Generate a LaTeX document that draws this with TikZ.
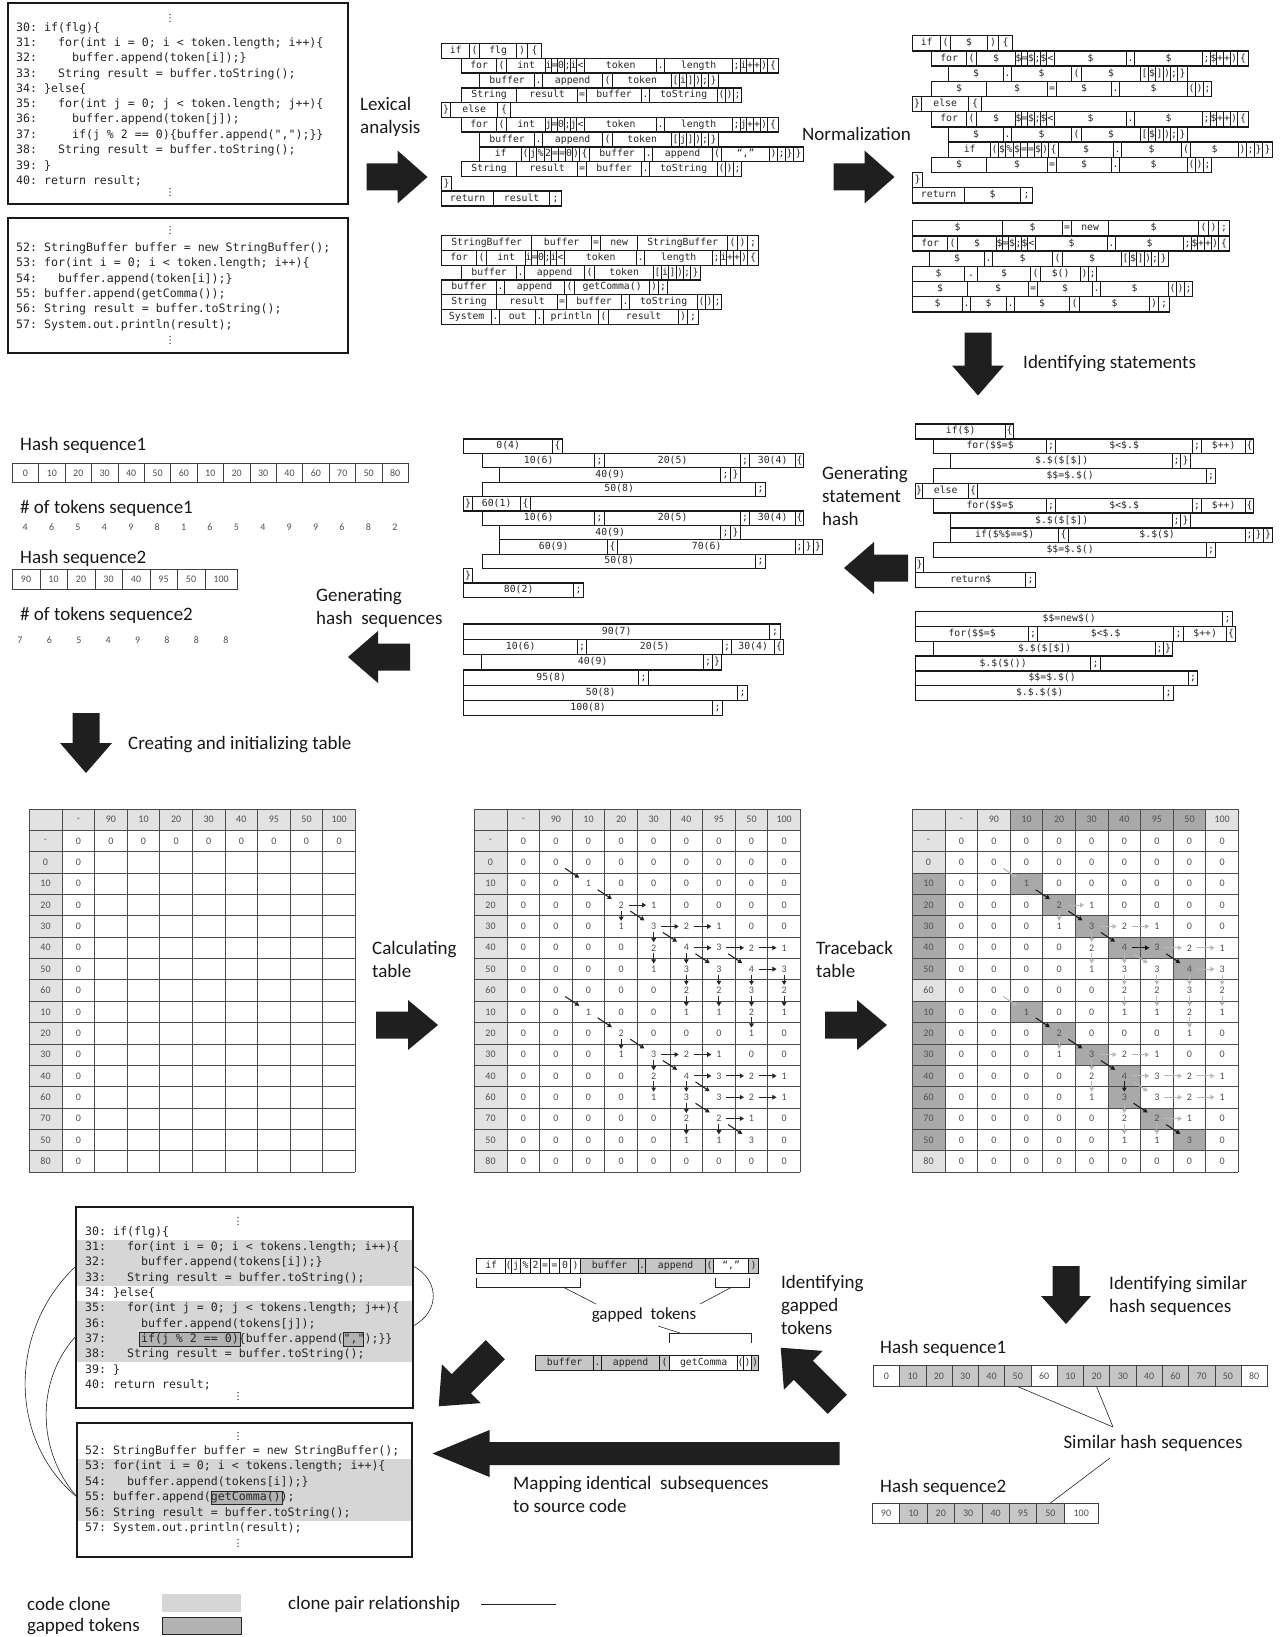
\documentclass[tikz,border=0pt]{standalone}
\usepackage{fontspec}
\setmainfont{Carlito}
\setmonofont{DejaVu Sans Mono}
\usetikzlibrary{arrows.meta}
\definecolor{hdrlight}{HTML}{E2E2E2}
\definecolor{celldark}{HTML}{A9A9A9}
\definecolor{band}{HTML}{D6D6D6}
\definecolor{gapfill}{HTML}{B2B2B2}
\definecolor{hgray}{HTML}{C6C6C6}
\definecolor{numgray}{HTML}{505050}
\newcommand\lblf{\fontsize{19}{23}\selectfont}
\newcommand\smlblf{\fontsize{17}{20}\selectfont}
\newcommand\codef{\ttfamily\fontsize{11.6}{14}\selectfont}
\newcommand\tokf{\ttfamily\fontsize{9.8}{11}\selectfont}
\newcommand\tabf{\fontsize{10}{12}\selectfont}
\newcounter{tkc}
% token row: #1 x, #2 top y, #3 height, #4 list width/text
\newcommand\tokrow[4]{\xdef\curx{#1}%
  \foreach \w/\tk in {#4}{\stepcounter{tkc}%
    \node[tok, minimum width=\w pt, minimum height=#3 pt, anchor=north west] (tk\arabic{tkc}) at (\curx,#2) {\tk};%
    \pgfmathsetmacro\nx{\curx+\w}\xdef\curx{\nx}}}
% coloured token row: list width/text/fill
\newcommand\gtokrow[4]{\xdef\curx{#1}%
  \foreach \w/\tk/\fc in {#4}{\stepcounter{tkc}%
    \node[tok, fill=\fc, minimum width=\w pt, minimum height=#3 pt, anchor=north west] (tk\arabic{tkc}) at (\curx,#2) {\tk};%
    \pgfmathsetmacro\nx{\curx+\w}\xdef\curx{\nx}}}
% hash row: #1 prefix, #2 x, #3 y, #4 h, #5 list width/text/fill
\newcommand\hashrow[5]{\xdef\curx{#2}%
  \foreach \w/\tk/\fc [count=\nn] in {#5}{%
    \node[hcell, fill=\fc, minimum width=\w pt, minimum height=#4 pt] (#1-\nn) at (\curx,#3) {\tk};%
    \pgfmathsetmacro\nx{\curx+\w}\xdef\curx{\nx}}}
% block arrow: cx, cy, angle, length, shaft w, head w, head len
\newcommand\blkarrow[7]{\fill[barrow, shift={(#1,#2)}, rotate=#3]
  ({-#4/2},{-#5/2}) -- ({#4/2-#7},{-#5/2}) -- ({#4/2-#7},{-#6/2}) -- ({#4/2},0)
  -- ({#4/2-#7},{#6/2}) -- ({#4/2-#7},{#5/2}) -- ({-#4/2},{#5/2}) -- cycle;}
\newcommand\vdts[2]{\foreach \k in {-3.3,0,3.3}{\fill[black!80] (#1,{#2+\k}) circle[radius=0.75pt];}}
% table coordinates
\newcommand\mktable[2]{%
  \foreach \i in {0,...,16}{\foreach \j in {0,...,9}{%
    \pgfmathsetmacro\cx{#2 + (\j==0 ? 16.5 : 33 + 32.6*(\j-0.5))}%
    \pgfmathsetmacro\cy{809 + 21.35*(\i+0.5)}%
    \coordinate (#1-\i-\j) at (\cx,\cy);}}}
\newcommand\tablegrid[1]{%
  \foreach \i in {0,...,17}{\draw[grid] (#1,{809+21.35*\i}) -- ++(326.4,0);}
  \draw[grid] (#1,809) -- ++(0,362.95);
  \foreach \j in {0,...,9}{\draw[grid] ({#1+33+32.6*\j},809) -- ++(0,362.95);}}
\newcommand\tablelabels[1]{%
  \foreach \lab [count=\j] in {-,90,10,20,30,40,95,50,100}{\node[tnum] at (#1-0-\j) {\lab};}
  \foreach \lab [count=\i] in {-,0,10,20,30,40,50,60,10,20,30,40,60,70,50,80}{\node[tnum] at (#1-\i-0) {\lab};}}
\newcommand\tablevals[1]{%
  \foreach \row [count=\i] in {{0,0,0,0,0,0,0,0,0},{0,0,0,0,0,0,0,0,0},{0,0,1,0,0,0,0,0,0},
    {0,0,0,2,1,0,0,0,0},{0,0,0,1,3,2,1,0,0},{0,0,0,0,2,4,3,2,1},{0,0,0,0,1,3,3,4,3},
    {0,0,0,0,0,2,2,3,2},{0,0,1,0,0,1,1,2,1},{0,0,0,2,0,0,0,1,0},{0,0,0,1,3,2,1,0,0},
    {0,0,0,0,2,4,3,2,1},{0,0,0,0,1,3,3,2,1},{0,0,0,0,0,2,2,1,0},{0,0,0,0,0,1,1,3,0},
    {0,0,0,0,0,0,0,0,0}}{%
    \foreach \v [count=\j] in \row {\node[tnum] at (#1-\i-\j) {\v};}}}
\newcommand\tablearrows[2]{%
  \foreach \a/\b in {2-2/3-3,3-3/4-4,4-4/5-5,5-5/6-6,6-6/7-7,6-7/7-8,8-2/9-3,9-3/10-4,10-4/11-5,11-5/12-6,12-6/13-7,13-6/14-7,14-7/15-8}
    {\draw[tad, draw=#2, #2] (#1-\a) -- (#1-\b);}
  \foreach \a/\b in {4-4/4-5,5-5/5-6,5-6/5-7,6-6/6-7,6-7/6-8,6-8/6-9,7-8/7-9,11-5/11-6,11-6/11-7,12-6/12-7,12-7/12-8,12-8/12-9,13-7/13-8,13-8/13-9,14-7/14-8}
    {\draw[tah, draw=#2, #2] (#1-\a) -- (#1-\b);}
  \foreach \a/\b in {4-4/5-4,5-5/6-5,6-5/7-5,6-6/7-6,7-6/8-6,8-6/9-6,7-7/8-7,8-7/9-7,7-8/8-8,8-8/9-8,9-8/10-8,7-9/8-9,8-9/9-9,10-4/11-4,11-5/12-5,12-5/13-5,12-6/13-6,13-6/14-6,14-6/15-6,14-7/15-7}
    {\draw[tav, draw=#2, #2] (#1-\a) -- (#1-\b);}}
\begin{document}
\begin{tikzpicture}[x=1pt,y=-1pt,
  tok/.style={draw=black!90, line width=1.35pt, inner sep=0pt, font=\tokf, text=black!85, text height=6.9pt, text depth=1.8pt},
  codetxt/.style={anchor=west, inner sep=0pt, font=\codef, text=black!85},
  codebox/.style={draw=black!90, line width=1.6pt},
  lbl/.style={anchor=west, inner sep=0pt, font=\lblf, align=left, text=black!90},
  tnum/.style={font=\tabf, text=numgray, inner sep=0pt},
  hcell/.style={draw=black!75, line width=0.6pt, inner sep=0pt, font=\tabf, text=numgray, anchor=north west},
  barrow/.style={fill=black!88},
  grid/.style={draw=black!70, line width=0.7pt},
  tarr/.style={line width=1.1pt, -{Triangle[length=4.2pt,width=4.6pt]}},
  tad/.style={tarr, shorten >=11pt, shorten <=11pt},
  tah/.style={tarr, shorten >=7.5pt, shorten <=7.5pt},
  tav/.style={tarr, shorten >=5.5pt, shorten <=5.5pt},
  thinl/.style={draw=black!85, line width=0.6pt}]
\useasboundingbox (0,0) rectangle (1281,1637);
\fill[white] (0,0) rectangle (1281,1637);

% ---------------- source code boxes (top left)
\draw[codebox] (8,3) rectangle (348,204);
\vdts{170}{18}
\node[codetxt] (s30) at (16,28) {30: if(flg)\{};
\node[codetxt] (s31) at (16,43.3) {31:~~~for(int i = 0; i < token.length; i++)\{};
\node[codetxt] (s32) at (16,58.6) {32:~~~~~buffer.append(token[i]);\}};
\node[codetxt] (s33) at (16,73.9) {33:~~~String result = buffer.toString();};
\node[codetxt] (s34) at (16,89.2) {34: \}else\{};
\node[codetxt] (s35) at (16,104.5) {35:~~~for(int j = 0; j < token.length; j++)\{};
\node[codetxt] (s36) at (16,119.8) {36:~~~~~buffer.append(token[j]);};
\node[codetxt] (s37) at (16,135.1) {37:~~~~~if(j \% 2 == 0)\{buffer.append(",");\}\}};
\node[codetxt] (s38) at (16,150.4) {38:~~~String result = buffer.toString();};
\node[codetxt] (s39) at (16,165.7) {39: \}};
\node[codetxt] (s40) at (16,181) {40: return result;};
\vdts{170}{192}

\draw[codebox] (8,218) rectangle (348,353);
\vdts{170}{230}
\node[codetxt] (s52) at (16,248) {52: StringBuffer buffer = new StringBuffer();};
\node[codetxt] (s53) at (16,263.4) {53: for(int i = 0; i < token.length; i++)\{};
\node[codetxt] (s54) at (16,278.8) {54:~~~buffer.append(token[i]);\}};
\node[codetxt] (s55) at (16,294.2) {55: buffer.append(getComma());};
\node[codetxt] (s56) at (16,309.6) {56: String result = buffer.toString();};
\node[codetxt] (s57) at (16,325) {57: System.out.println(result);};
\vdts{170}{340}

% ---------------- lexical analysis tokens
\tokrow{441}{43}{14.75}{28/if, 10/(, 37/flg, 11/), 14/\{}
\tokrow{461}{57.75}{14.75}{35/for, 10/(, 39/int, 6/i, 6/=, 7/0, 6/;, 6/i, 8/<, 72/token, 8/., 68/length, 8/;, 6/i, 7/+, 7/+, 7/), 11/\{}
\tokrow{479}{72.5}{14.75}{55/buffer, 8/., 60/append, 10/(, 59/token, 8/[, 7/i, 8/], 7/), 7/;, 10/\}}
\tokrow{461}{87.25}{14.75}{55/String, 61/result, 9/=, 55/buffer, 8/., 68/toString, 8/(, 8/), 8/;}
\tokrow{441}{102}{14.75}{9/\}, 47/else, 13/\{}
\tokrow{461}{116.75}{14.75}{35/for, 10/(, 39/int, 6/j, 6/=, 7/0, 6/;, 6/j, 8/<, 72/token, 8/., 68/length, 8/;, 6/j, 7/+, 7/+, 7/), 11/\{}
\tokrow{479}{131.5}{14.75}{55/buffer, 8/., 60/append, 10/(, 59/token, 8/[, 7/j, 8/], 7/), 7/;, 10/\}}
\tokrow{479}{146.25}{14.75}{42/if, 8/(, 7/j, 8/\%, 7/2, 7/=, 7/=, 7/0, 7/), 10/\{, 55/buffer, 8/., 60/append, 9/(, 48/{“,”}, 8/), 8/;, 8/\}, 10/\}}
\tokrow{461}{161}{14.75}{55/String, 61/result, 9/=, 55/buffer, 8/., 68/toString, 8/(, 8/), 8/;}
\tokrow{441}{175.75}{14.75}{10/\}}
\tokrow{441}{190.5}{14.75}{52/return, 56/result, 12/;}

\tokrow{441}{235}{14.75}{90/StringBuffer, 60/buffer, 9/=, 37/new, 90/StringBuffer, 10/(, 10/), 11/;}
\tokrow{441}{249.75}{14.75}{35/for, 10/(, 39/int, 6/i, 6/=, 7/0, 6/;, 6/i, 8/<, 72/token, 8/., 68/length, 8/;, 6/i, 7/+, 7/+, 7/), 11/\{}
\tokrow{461}{264.5}{14.75}{55/buffer, 8/., 60/append, 10/(, 59/token, 8/[, 7/i, 8/], 7/), 7/;, 10/\}}
\tokrow{441}{279.25}{14.75}{55/buffer, 8/., 60/append, 10/(, 75/getComma(), 9/), 9/;}
\tokrow{441}{294}{14.75}{55/String, 61/result, 9/=, 55/buffer, 8/., 68/toString, 8/(, 8/), 8/;}
\tokrow{441}{308.75}{14.75}{50/System, 8/., 36/out, 8/., 55/println, 10/(, 70/result, 9/), 11/;}

% ---------------- normalization tokens
\tokrow{912}{35}{15.2}{28/if, 10/(, 37/\$, 11/), 14/\{}
\tokrow{931}{50.2}{15.2}{35/for, 10/(, 39/\$, 6/\$, 6/=, 7/\$, 6/;, 6/\$, 8/<, 72/\$, 8/., 68/\$, 8/;, 6/\$, 7/+, 7/+, 7/), 11/\{}
\tokrow{948}{65.4}{15.2}{55/\$, 8/., 60/\$, 10/(, 59/\$, 8/[, 7/\$, 8/], 7/), 7/;, 10/\}}
\tokrow{931}{80.6}{15.2}{55/\$, 61/\$, 9/=, 55/\$, 8/., 68/\$, 8/(, 8/), 8/;}
\tokrow{912}{95.8}{15.2}{9/\}, 47/else, 13/\{}
\tokrow{931}{111}{15.2}{35/for, 10/(, 39/\$, 6/\$, 6/=, 7/\$, 6/;, 6/\$, 8/<, 72/\$, 8/., 68/\$, 8/;, 6/\$, 7/+, 7/+, 7/), 11/\{}
\tokrow{948}{126.2}{15.2}{55/\$, 8/., 60/\$, 10/(, 59/\$, 8/[, 7/\$, 8/], 7/), 7/;, 10/\}}
\tokrow{948}{141.4}{15.2}{42/if, 8/(, 7/\$, 8/\%, 7/\$, 7/=, 7/=, 7/\$, 7/), 10/\{, 55/\$, 8/., 60/\$, 9/(, 48/\$, 8/), 8/;, 8/\}, 10/\}}
\tokrow{931}{156.6}{15.2}{55/\$, 61/\$, 9/=, 55/\$, 8/., 68/\$, 8/(, 8/), 8/;}
\tokrow{912}{171.8}{15.2}{10/\}}
\tokrow{912}{187}{15.2}{52/return, 56/\$, 12/;}

\tokrow{912}{220}{15.2}{90/\$, 60/\$, 9/=, 37/new, 90/\$, 10/(, 10/), 11/;}
\tokrow{912}{235.2}{15.2}{35/for, 10/(, 39/\$, 6/\$, 6/=, 7/\$, 6/;, 6/\$, 8/<, 72/\$, 8/., 68/\$, 8/;, 6/\$, 7/+, 7/+, 7/), 11/\{}
\tokrow{929}{250.4}{15.2}{55/\$, 8/., 60/\$, 10/(, 59/\$, 8/[, 7/\$, 8/], 7/), 7/;, 10/\}}
\tokrow{912}{265.6}{15.2}{52/\$, 13/., 53/\$, 10/(, 40/\$(), 8/), 8/;}
\tokrow{912}{280.8}{15.2}{55/\$, 61/\$, 9/=, 55/\$, 8/., 68/\$, 8/(, 8/), 8/;}
\tokrow{912}{296}{15.2}{50/\$, 8/., 36/\$, 8/., 55/\$, 10/(, 70/\$, 9/), 11/;}

% ---------------- statements
\tokrow{915}{423.3}{14.85}{90/if(\$), 8/\{}
\tokrow{933}{438.15}{14.85}{113/for(\$\$=\$, 9/;, 137/\$<\$.\$, 9/;, 44/\$++), 8/\{}
\tokrow{950}{453}{14.85}{222/\$.\$(\$[\$]), 8/;, 10/\}}
\tokrow{933}{467.85}{14.85}{273/\$\$=\$.\$(), 9/;}
\tokrow{915}{482.7}{14.85}{7/\}, 46/else, 9/\{}
\tokrow{933}{497.55}{14.85}{113/for(\$\$=\$, 9/;, 137/\$<\$.\$, 9/;, 44/\$++), 8/\{}
\tokrow{950}{512.4}{14.85}{222/\$.\$(\$[\$]), 8/;, 10/\}}
\tokrow{950}{527.25}{14.85}{108/if(\$\%\$==\$), 10/\{, 177/\$.\$(\$), 8/;, 10/\}, 9/\}}
\tokrow{933}{542.1}{14.85}{273/\$\$=\$.\$(), 9/;}
\tokrow{915}{556.95}{14.85}{8/\}}
\tokrow{915}{571.8}{14.85}{110/return\$, 10/;}

\tokrow{915}{611}{14.8}{307/\$\$=new\$(), 10/;}
\tokrow{915}{625.8}{14.8}{113/for(\$\$=\$, 9/;, 136/\$<\$.\$, 10/;, 43/\$++), 9/\{}
\tokrow{933}{640.6}{14.8}{222/\$.\$(\$[\$]), 8/;, 9/\}}
\tokrow{915}{655.4}{14.8}{175/\$.\$(\$()), 10/;}
\tokrow{915}{670.2}{14.8}{273/\$\$=\$.\$(), 9/;}
\tokrow{915}{685}{14.8}{248/\$.\$.\$(\$), 10/;}

% ---------------- statement hashes
\tokrow{463}{438.3}{14.4}{89/0(4), 10/\{}
\tokrow{482}{452.7}{14.4}{112/10(6), 10/;, 136/20(5), 9/;, 46/30(4), 8/\{}
\tokrow{499}{467.1}{14.4}{221/40(9), 10/;, 10/\}}
\tokrow{482}{481.5}{14.4}{273/50(8), 10/;}
\tokrow{463}{495.9}{14.4}{9/\}, 48/60(1), 10/\{}
\tokrow{482}{510.3}{14.4}{112/10(6), 10/;, 136/20(5), 9/;, 46/30(4), 8/\{}
\tokrow{499}{524.7}{14.4}{221/40(9), 10/;, 10/\}}
\tokrow{499}{539.1}{14.4}{108/60(9), 10/\{, 178/70(6), 8/;, 10/\}, 9/\}}
\tokrow{482}{553.5}{14.4}{273/50(8), 10/;}
\tokrow{463}{567.9}{14.4}{9/\}}
\tokrow{463}{582.3}{14.4}{110/80(2), 10/;}

\tokrow{463}{623.3}{15.3}{306/90(7), 11/;}
\tokrow{463}{638.6}{15.3}{114/10(6), 9/;, 136/20(5), 9/;, 43/30(4), 9/\{}
\tokrow{481}{653.9}{15.3}{222/40(9), 9/;, 9/\}}
\tokrow{463}{669.2}{15.3}{175/95(8), 10/;}
\tokrow{463}{684.5}{15.3}{274/50(8), 10/;}
\tokrow{463}{699.8}{15.3}{249/100(8), 10/;}

% ---------------- hash sequences (left)
\node[lbl] (hs1) at (20,445) {Hash sequence1};
\hashrow{hA}{12}{463}{19}{26.4/0/white, 26.4/10/white, 26.4/20/white, 26.4/30/white, 26.4/40/white, 26.4/50/white, 26.4/60/white, 26.4/10/white, 26.4/20/white, 26.4/30/white, 26.4/40/white, 26.4/60/white, 26.4/70/white, 26.4/50/white, 26.4/80/white}
\node[lbl] (nt1) at (20,508) {\# of tokens sequence1};
\foreach \v [count=\k] in {4,6,5,4,9,8,1,6,5,4,9,9,6,8,2}{\node[tnum] (nA\k) at ({12+26.4*(\k-0.5)},527) {\v};}
\node[lbl] (hs2) at (20,558) {Hash sequence2};
\hashrow{hB}{12}{569}{20}{27.5/90/white, 27.5/10/white, 27.5/20/white, 27.5/30/white, 27.5/40/white, 27.5/95/white, 27.5/50/white, 32.5/100/white}
\node[lbl] (nt2) at (20,615) {\# of tokens sequence2};
\foreach \v [count=\k] in {7,6,5,4,9,8,8,8}{\node[tnum] (nB\k) at ({20+29.4*(\k-1)},640) {\v};}

% ---------------- labels
\node[lbl] (lx) at (360,116.5) {Lexical\\analysis};
\node[lbl] (nm) at (802,134) {Normalization};
\node[lbl] (idst) at (1023,364) {Identifying statements};
\node[lbl] (gsh) at (822,496) {Generating\\statement\\hash};
\node[lbl] (ghs) at (316,608) {Generating\\hash~ sequences};
\node[lbl] (cit) at (128,745) {Creating and initializing table};
\node[lbl] (calc) at (372,959.5) {Calculating\\table};
\node[lbl] (trb) at (816,959.5) {Traceback\\table};
\node[lbl] (igt) at (781,1305) {Identifying\\gapped\\tokens};
\node[lbl] (ish) at (1109,1296) {Identifying similar\\hash sequences};
\node[lbl] (mis) at (513,1494) {Mapping identical~ subsequences\\to source code};

% ---------------- block arrows
\blkarrow{397}{177}{0}{61}{27}{53}{30}
\blkarrow{864}{177}{0}{61}{27}{53}{30}
\blkarrow{978}{364}{-90}{63}{27}{52}{30}
\blkarrow{876}{568}{180}{64}{27}{52}{30}
\blkarrow{379}{657}{180}{62}{27}{52}{30}
\blkarrow{86}{743}{-90}{60}{27}{52}{30}
\blkarrow{407}{1025}{0}{62}{27}{50}{30}
\blkarrow{856}{1025}{0}{62}{27}{50}{30}
\blkarrow{1066}{1295}{-90}{58}{27}{50}{28}
\blkarrow{809}{1376}{135}{80}{27}{55}{32}
\blkarrow{467}{1378}{225}{80}{27}{55}{32}
\blkarrow{636}{1453.5}{180}{407}{23}{47}{57}

% ---------------- table 1
\mktable{T1}{29}
\fill[hdrlight] (29,809) rectangle ++(326.4,21.35);
\fill[hdrlight] (29,809) rectangle ++(33,362.95);
\tablegrid{29}
\tablelabels{T1}
\foreach \j in {1,...,9}{\node[tnum] at (T1-1-\j) {0};}
\foreach \i in {2,...,16}{\node[tnum] at (T1-\i-1) {0};}

% ---------------- table 2
\mktable{T2}{474}
\fill[hdrlight] (474,809) rectangle ++(326.4,21.35);
\fill[hdrlight] (474,809) rectangle ++(33,362.95);
\tablegrid{474}
\tablelabels{T2}
\tablevals{T2}
\tablearrows{T2}{black!85}

% ---------------- table 3
\mktable{T3}{912}
\fill[hdrlight] (912,809) rectangle ++(326.4,21.35);
\fill[hdrlight] (912,809) rectangle ++(33,362.95);
\foreach \j in {3,...,8}{\fill[celldark] (T3-0-\j) ++(-16.3,-10.675) rectangle ++(32.6,21.35);}
\foreach \i in {3,4,5,6,7,9,10,11,12,13,14,15}{\fill[celldark] (T3-\i-0) ++(-16.5,-10.675) rectangle ++(33,21.35);}
\foreach \c in {3-3,4-4,5-5,6-6,6-7,7-8,9-3,10-4,11-5,12-6,13-6,14-7,15-8}{\fill[celldark] (T3-\c) ++(-16.3,-10.675) rectangle ++(32.6,21.35);}
\tablegrid{912}
\tablelabels{T3}
\tablevals{T3}
\tablearrows{T3}{black!28}
\foreach \a/\b in {3-3/4-4,4-4/5-5,5-5/6-6,6-7/7-8,9-3/10-4,10-4/11-5,11-5/12-6,13-6/14-7,14-7/15-8}{\draw[tad, draw=black!90, black!90] (T3-\a) -- (T3-\b);}
\draw[tah, draw=black!90, black!90] (T3-6-6) -- (T3-6-7);
\draw[tav, draw=black!90, black!90] (T3-12-6) -- (T3-13-6);

% ---------------- bottom code boxes
\fill[band] (77,1240) rectangle (412,1285.5);
\fill[band] (77,1301) rectangle (412,1362);
\draw[fill=gapfill, draw=black!85, line width=0.8pt] (139,1332.5) rectangle (240,1346);
\draw[fill=gapfill, draw=black!85, line width=0.8pt] (343,1332.5) rectangle (363,1346);
\draw[codebox] (76,1207) rectangle (413,1408);
\vdts{238}{1221}
\node[codetxt] (b30) at (85,1232) {30: if(flg)\{};
\node[codetxt] (b31) at (85,1247.3) {31:~~~for(int i = 0; i < tokens.length; i++)\{};
\node[codetxt] (b32) at (85,1262.6) {32:~~~~~buffer.append(tokens[i]);\}};
\node[codetxt] (b33) at (85,1277.9) {33:~~~String result = buffer.toString();};
\node[codetxt] (b34) at (85,1293.2) {34: \}else\{};
\node[codetxt] (b35) at (85,1308.5) {35:~~~for(int j = 0; j < tokens.length; j++)\{};
\node[codetxt] (b36) at (85,1323.8) {36:~~~~~buffer.append(tokens[j]);};
\node[codetxt] (b37) at (85,1339.1) {37:~~~~~if(j \% 2 == 0)\{buffer.append(",");\}\}};
\node[codetxt] (b38) at (85,1354.4) {38:~~~String result = buffer.toString();};
\node[codetxt] (b39) at (85,1369.7) {39: \}};
\node[codetxt] (b40) at (85,1385) {40: return result;};
\vdts{238}{1396}

\fill[band] (78,1459) rectangle (411,1521);
\draw[fill=gapfill, draw=black!85, line width=0.8pt] (211,1491) rectangle (282,1504);
\draw[codebox] (77,1423) rectangle (412,1557);
\vdts{238}{1436}
\node[codetxt] (b52) at (85,1451) {52: StringBuffer buffer = new StringBuffer();};
\node[codetxt] (b53) at (85,1466.5) {53: for(int i = 0; i < tokens.length; i++)\{};
\node[codetxt] (b54) at (85,1482) {54:~~~buffer.append(tokens[i]);\}};
\node[codetxt] (b55) at (85,1497.5) {55: buffer.append(getComma());};
\node[codetxt] (b56) at (85,1513) {56: String result = buffer.toString();};
\node[codetxt] (b57) at (85,1528.5) {57: System.out.println(result);};
\vdts{238}{1543}

% clone pair curves
\coordinate (cpA) at (76,1266);
\coordinate (cpB) at (76,1336);
\coordinate (cpC) at (77,1497);
\coordinate (cpR1) at (413,1266);
\coordinate (cpR2) at (413,1326);
\draw[thinl] (cpA) .. controls (8,1330) and (8,1440) .. (cpC);
\draw[thinl] (cpB) .. controls (36,1380) and (36,1450) .. (cpC);
\draw[thinl] (cpR1) .. controls (440,1280) and (440,1312) .. (cpR2);

% ---------------- gapped tokens
\gtokrow{476}{1258}{15}{29/if/white, 6/(/white, 9/j/white, 10/\%/white, 10/2/white, 9/=/white, 10/=/white, 11/0/white, 10/)/white, 58/buffer/hgray, 7/./hgray, 60/append/hgray, 8/(/hgray, 35/{“,”}/white, 10/)/hgray}
\gtokrow{535}{1355}{15}{58/buffer/hgray, 8/./hgray, 58/append/hgray, 10/(/hgray, 68/getComma/white, 6/(/white, 8/)/white, 7/)/hgray}
\coordinate (br1a) at (476,1278); \coordinate (br1b) at (580,1278);
\coordinate (br2a) at (715,1278); \coordinate (br2b) at (749,1278);
\coordinate (br3a) at (669,1343); \coordinate (br3b) at (751,1343);
\draw[thinl] (br1a) -- ++(0,9) -| (br1b);
\draw[thinl] (br2a) -- ++(0,9) -| (br2b);
\draw[thinl] (br3a) -- ++(0,-10) -| (br3b);
\node[anchor=center, inner sep=0pt, font=\smlblf, text=black!90] (gt) at (644,1315) {gapped~ tokens};
\coordinate (l1a) at (563,1287); \coordinate (l1b) at (596,1304);
\coordinate (l2a) at (732,1287); \coordinate (l2b) at (700,1304);
\coordinate (l3a) at (658,1326); \coordinate (l3b) at (680,1333);
\draw[thinl] (l1a) -- (l1b);
\draw[thinl] (l2a) -- (l2b);
\draw[thinl] (l3a) -- (l3b);

% ---------------- hash sequences (bottom right)
\node[lbl] (hs1b) at (880,1348) {Hash sequence1};
\hashrow{hC}{873}{1365}{21}{26.27/0/white, 26.27/10/hgray, 26.27/20/hgray, 26.27/30/hgray, 26.27/40/hgray, 26.27/50/hgray, 26.27/60/white, 26.27/10/hgray, 26.27/20/hgray, 26.27/30/hgray, 26.27/40/hgray, 26.27/60/hgray, 26.27/70/hgray, 26.27/50/hgray, 26.27/80/white}
\node[anchor=center, inner sep=0pt, font=\lblf, text=black!90] (sim) at (1153,1443) {Similar hash sequences};
\coordinate (simt) at (1113,1427);
\coordinate (simb) at (1110,1458);
\draw[thinl] (hC-6.south) -- (simt);
\draw[thinl] (hC-9.south) -- (simt);
\node[lbl] (hs2b) at (880,1487) {Hash sequence2};
\hashrow{hD}{872}{1503}{19.5}{27.4/90/white, 27.4/10/hgray, 27.4/20/hgray, 27.4/30/hgray, 27.4/40/hgray, 27.4/95/hgray, 27.4/50/hgray, 34.2/100/white}
\draw[thinl] (simb) -- (hD-7.north);

% ---------------- legend
\node[lbl] (lg1) at (27,1604) {code clone};
\fill[band] (162,1594) rectangle (241,1612);
\node[lbl] (lg2) at (27,1627) {gapped tokens};
\draw[fill=gapfill, draw=black!85, line width=0.8pt] (162,1617) rectangle (241,1634);
\node[lbl] (lg3) at (288,1604) {clone pair relationship};
\coordinate (lgl1) at (481,1604); \coordinate (lgl2) at (556,1604);
\draw[thinl] (lgl1) -- (lgl2);
\end{tikzpicture}
\end{document}
